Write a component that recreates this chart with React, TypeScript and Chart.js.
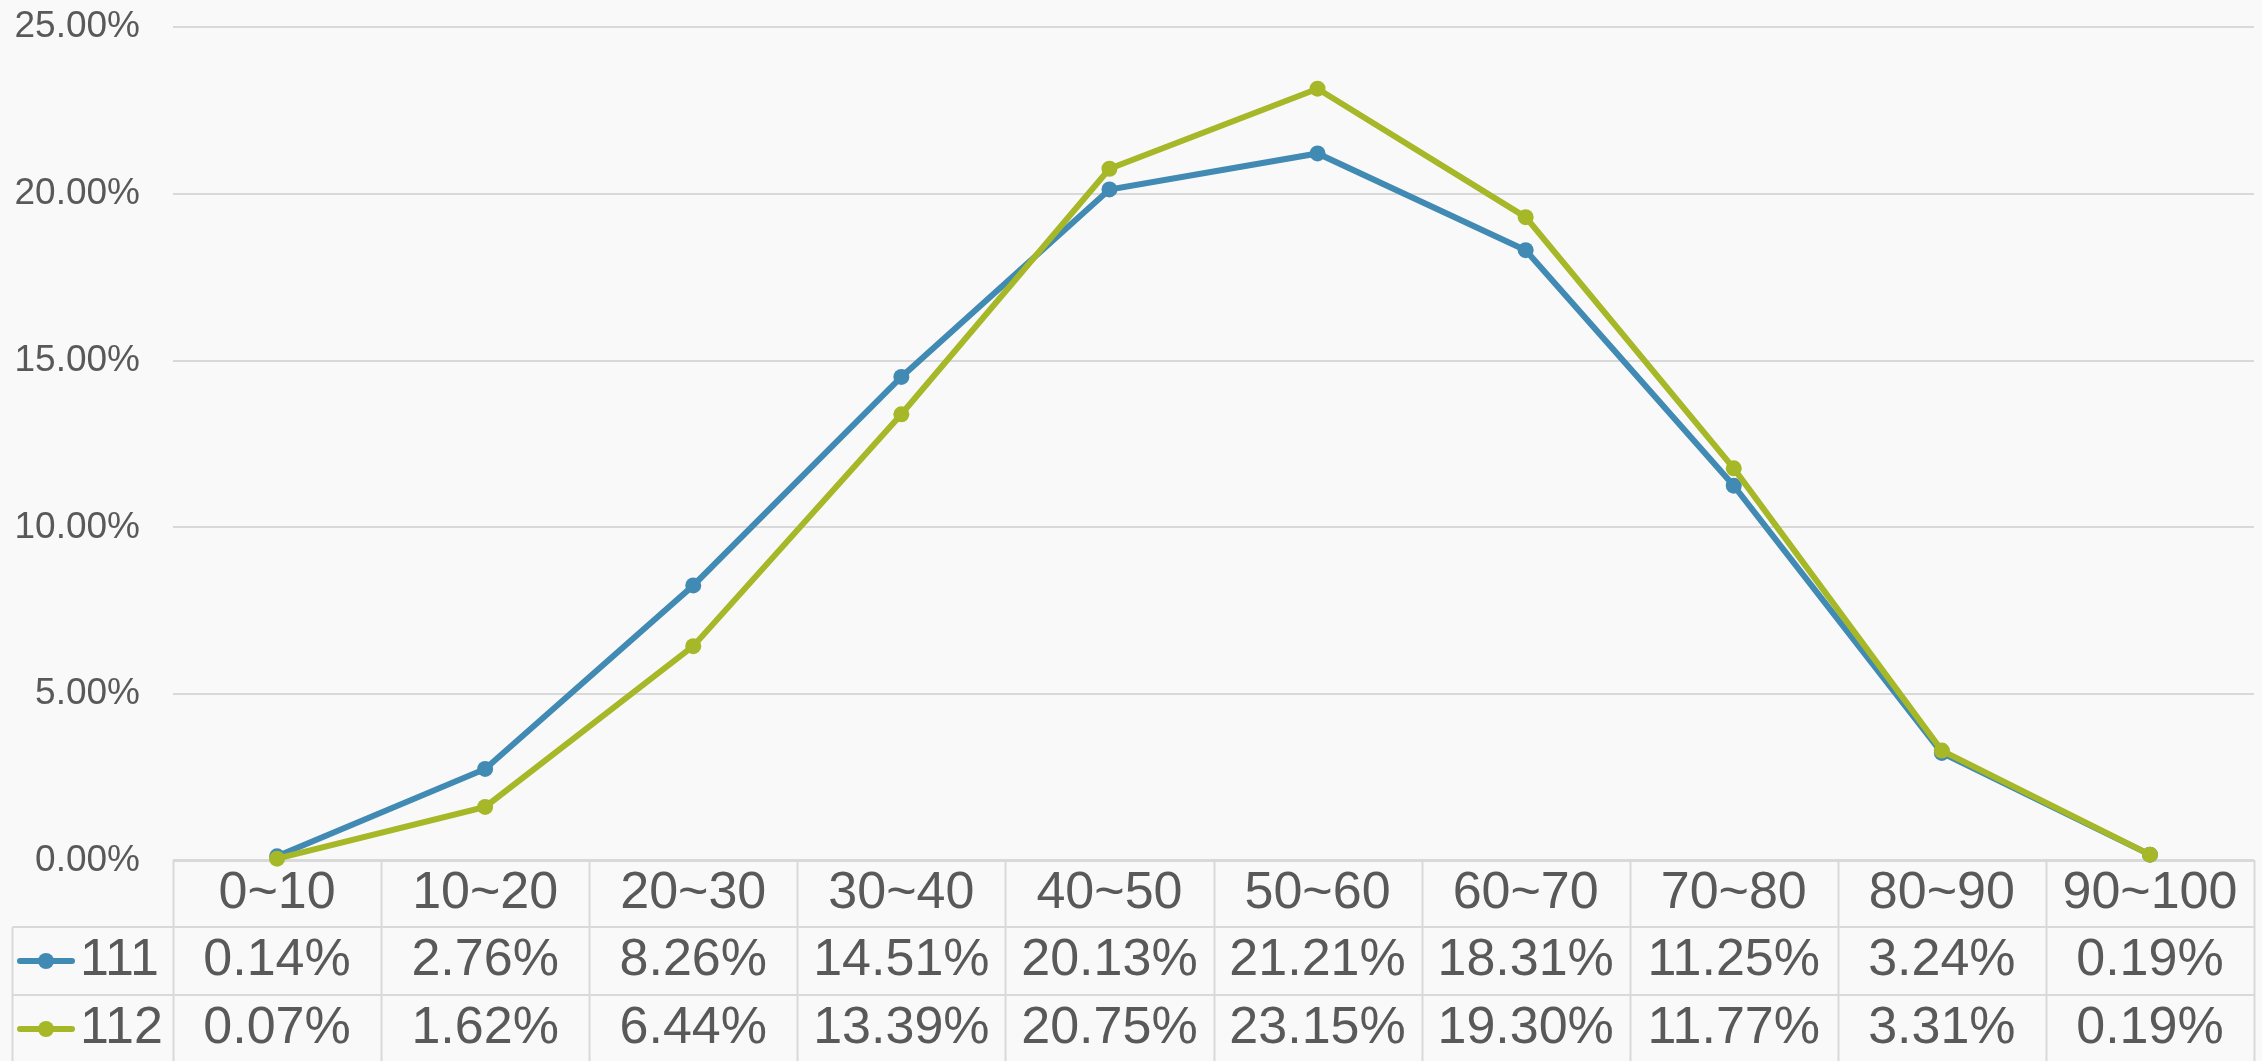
import React, { useEffect, useRef } from "react";
import { Chart, registerables } from "chart.js";

Chart.register(...registerables);

const categories = ["0~10", "10~20", "20~30", "30~40", "40~50", "50~60", "60~70", "70~80", "80~90", "90~100"];
const seriesNames = ["111", "112"];
const series111 = [0.14, 2.76, 8.26, 14.51, 20.13, 21.21, 18.31, 11.25, 3.24, 0.19];
const series112 = [0.07, 1.62, 6.44, 13.39, 20.75, 23.15, 19.3, 11.77, 3.31, 0.19];
const seriesColors = ["#418ab3", "#a6b727"];
const yTicks = { min: 0, max: 25, step: 5 };

const W = 2262;
const H = 1061;
const FONT = "'Liberation Sans', Arial, sans-serif";
const TEXT = "#595959";
const GRID = "#d9d9d9";
const BG = "#f9f9f9";

const fmt = (v: number) => v.toFixed(2) + "%";

const tablePlugin = {
  id: "dataTable",
  beforeDatasetsDraw(chart: any) {
    const ctx = chart.ctx as CanvasRenderingContext2D;
    const x = chart.scales.x;
    const area = chart.chartArea;
    const n = categories.length;
    const bounds: number[] = [];
    for (let i = 0; i <= n; i++) {
      if (i === 0) bounds.push(area.left);
      else if (i === n) bounds.push(area.right);
      else bounds.push((x.getPixelForTick(i - 1) + x.getPixelForTick(i)) / 2);
    }
    const top = area.bottom;
    const rowTops = [top, top + 66, top + 134];
    const rowBottoms = [top + 66, top + 134, top + 202];
    const legendLeft = 12.5;

    ctx.save();
    ctx.strokeStyle = GRID;
    ctx.lineWidth = 2;
    ctx.beginPath();
    ctx.moveTo(area.left, top - 1);
    ctx.lineTo(area.right, top - 1);
    ctx.moveTo(legendLeft, rowTops[1]);
    ctx.lineTo(area.right, rowTops[1]);
    ctx.moveTo(legendLeft, rowTops[2]);
    ctx.lineTo(area.right, rowTops[2]);
    for (let i = 0; i <= n; i++) {
      const bx = Math.round(bounds[i]) + 0.5;
      ctx.moveTo(bx, top - 1);
      ctx.lineTo(bx, H);
    }
    ctx.moveTo(legendLeft, rowTops[1]);
    ctx.lineTo(legendLeft, H);
    ctx.stroke();

    ctx.fillStyle = TEXT;
    ctx.font = `52px ${FONT}`;
    ctx.textAlign = "center";
    ctx.textBaseline = "middle";
    const cy = (r: number) => (rowTops[r] + rowBottoms[r]) / 2;
    for (let i = 0; i < n; i++) {
      const cx = x.getPixelForTick(i);
      ctx.fillText(categories[i], cx, cy(0));
      ctx.fillText(fmt(series111[i]), cx, cy(1));
      ctx.fillText(fmt(series112[i]), cx, cy(2));
    }
    for (let r = 0; r < 2; r++) {
      const y = cy(r + 1);
      ctx.strokeStyle = seriesColors[r];
      ctx.lineWidth = 6;
      ctx.lineCap = "round";
      ctx.beginPath();
      ctx.moveTo(20, y);
      ctx.lineTo(72, y);
      ctx.stroke();
      ctx.fillStyle = seriesColors[r];
      ctx.beginPath();
      ctx.arc(46, y, 8, 0, Math.PI * 2);
      ctx.fill();
      ctx.fillStyle = TEXT;
      ctx.textAlign = "left";
      ctx.fillText(seriesNames[r], 80, y);
    }
    ctx.restore();
  },
};

const bgPlugin = {
  id: "bg",
  beforeDraw(chart: any) {
    const ctx = chart.ctx;
    ctx.save();
    ctx.fillStyle = BG;
    ctx.fillRect(0, 0, chart.width, chart.height);
    ctx.restore();
  },
};

export default function App() {
  const ref = useRef<HTMLCanvasElement | null>(null);
  useEffect(() => {
    document.body.style.margin = "0";
    document.body.style.background = BG;
    const canvas = ref.current!;
    const mk = (i: number, data: number[], order: number) => ({
      label: seriesNames[i],
      data,
      borderColor: seriesColors[i],
      backgroundColor: seriesColors[i],
      pointBackgroundColor: seriesColors[i],
      borderWidth: 6,
      pointRadius: 8,
      pointBorderWidth: 0,
      tension: 0,
      clip: false as any,
      order,
    });
    const chart = new Chart(canvas, {
      type: "line",
      data: {
        labels: categories,
        datasets: [mk(0, series111, 1), mk(1, series112, 0)],
      },
      options: {
        responsive: false,
        animation: false,
        devicePixelRatio: 1,
        layout: { padding: { top: 27, bottom: 200, left: 0, right: 0 } },
        plugins: { legend: { display: false }, tooltip: { enabled: false } },
        scales: {
          x: {
            type: "category",
            offset: true,
            display: false,
          },
          y: {
            min: yTicks.min,
            max: yTicks.max,
            ticks: {
              stepSize: yTicks.step,
              callback: (v: any) => fmt(Number(v)),
              font: { size: 37, family: FONT },
              color: TEXT,
              padding: 33,
            },
            grid: { color: GRID, lineWidth: 2, drawTicks: false },
            border: { display: false },
            afterFit: (s: any) => {
              s.width = 173;
              s.paddingTop = 0;
              s.paddingBottom = 0;
            },
          },
        },
      },
      plugins: [bgPlugin, tablePlugin],
    });
    return () => chart.destroy();
  }, []);
  return (
    <div style={{ position: "absolute", left: 0, top: 0, width: W, height: H, background: BG }}>
      <canvas ref={ref} width={W} height={H} style={{ display: "block", width: W, height: H }} />
    </div>
  );
}
